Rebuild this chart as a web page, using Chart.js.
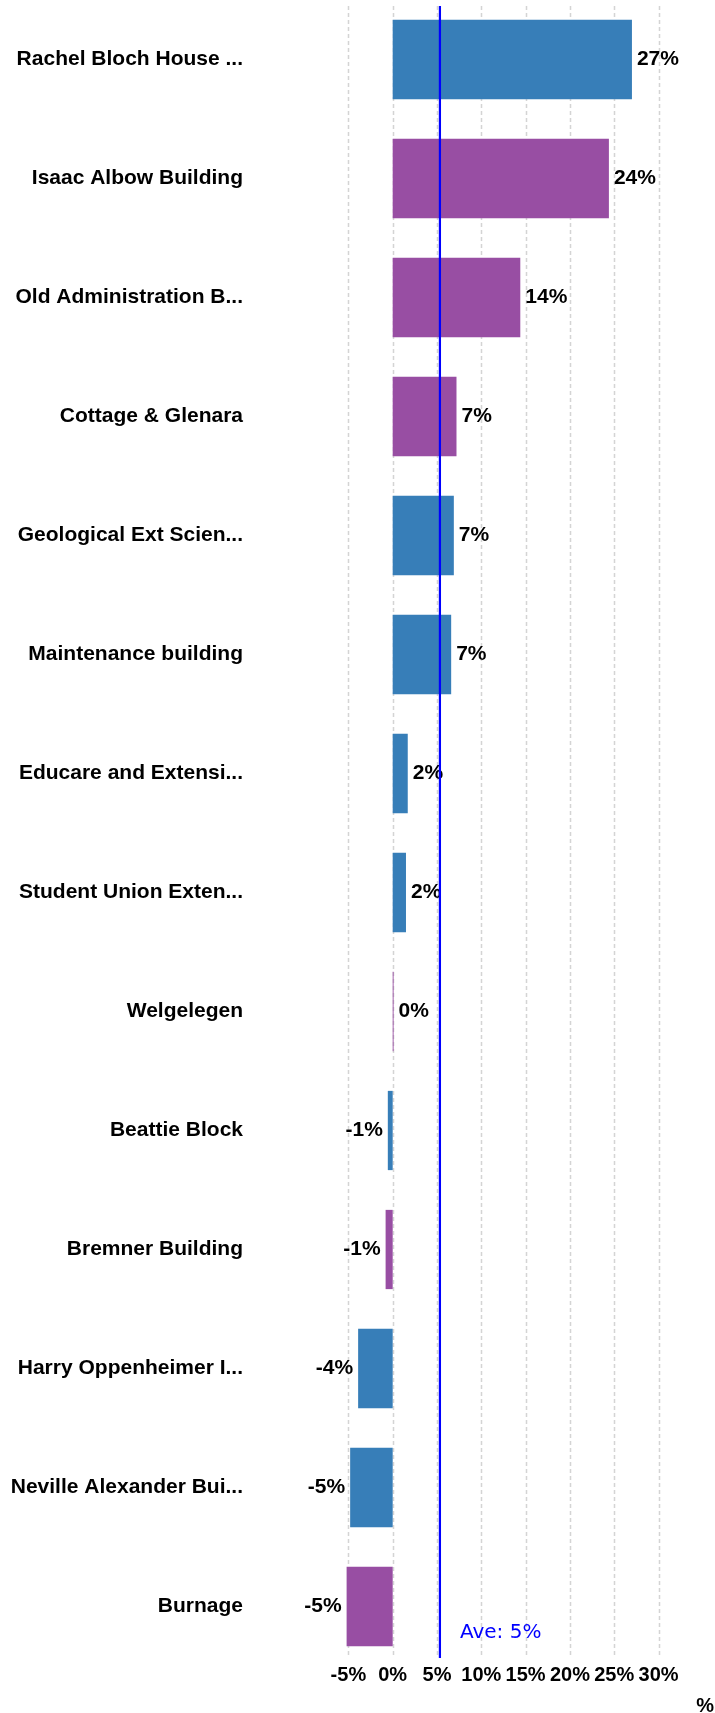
<!DOCTYPE html>
<html><head><meta charset="utf-8">
<script src="https://cdn.jsdelivr.net/npm/chart.js@4.4.1/dist/chart.umd.min.js"></script>
<style>html,body{margin:0;padding:0;background:#fff;overflow:hidden}canvas{display:block}</style>
</head><body><canvas id="c" width="715" height="1713"></canvas>
<script>
// ---- data ----
const categories = [
  'Rachel Bloch House ...', 'Isaac Albow Building', 'Old Administration B...',
  'Cottage & Glenara', 'Geological Ext Scien...', 'Maintenance building',
  'Educare and Extensi...', 'Student Union Exten...', 'Welgelegen',
  'Beattie Block', 'Bremner Building', 'Harry Oppenheimer I...',
  'Neville Alexander Bui...', 'Burnage'
];
const values = [27.0, 24.4, 14.4, 7.2, 6.9, 6.6, 1.7, 1.5, 0.1, -0.55, -0.8, -3.9, -4.8, -5.2];
const groupOf = [0, 1, 1, 1, 0, 0, 0, 0, 1, 0, 1, 0, 0, 1];
const tickValues = [-5, 0, 5, 10, 15, 20, 25, 30];
const averageValue = 5.33;
const axisTitle = '%';

// ---- styling ----
const groupColors = ['#377eb8', '#984ea3'];
const X_MIN = -10.46, X_MAX = 36.26;
const labelFont = 'bold 21px "Liberation Sans", Arial, sans-serif';

const overlay = {
  id: 'overlay',
  beforeDatasetsDraw(chart) {
    const {ctx, chartArea: {top, bottom}, scales: {x}} = chart;
    ctx.save();
    ctx.strokeStyle = '#d4d4d4';
    ctx.lineWidth = 1.5;
    ctx.setLineDash([4, 3]);
    x.ticks.forEach(t => {
      const px = Math.round(x.getPixelForValue(t.value)) + 0.5;
      ctx.beginPath(); ctx.moveTo(px, top + 6); ctx.lineTo(px, bottom - 8); ctx.stroke();
    });
    ctx.restore();
  },
  afterDatasetsDraw(chart) {
    const {ctx, chartArea: {top, bottom}, scales: {x}} = chart;
    const meta = chart.getDatasetMeta(0);
    ctx.save();
    ctx.font = labelFont;
    ctx.fillStyle = '#000';
    ctx.textBaseline = 'middle';
    meta.data.forEach((el, i) => {
      const v = values[i];
      const txt = Math.round(v) + '%';
      if (v >= 0) { ctx.textAlign = 'left'; ctx.fillText(txt, el.x + 5, el.y); }
      else { ctx.textAlign = 'right'; ctx.fillText(txt, el.x - 5, el.y); }
    });
    // average line
    const ax = x.getPixelForValue(averageValue);
    ctx.strokeStyle = '#0000ff';
    ctx.lineWidth = 2.2;
    ctx.beginPath(); ctx.moveTo(ax, top + 6); ctx.lineTo(ax, bottom - 8); ctx.stroke();
    ctx.font = '20px "DejaVu Sans", Verdana, sans-serif';
    ctx.fillStyle = '#0000ff';
    ctx.textAlign = 'left';
    ctx.textBaseline = 'alphabetic';
    ctx.fillText('Ave: ' + Math.round(averageValue) + '%', ax + 20, bottom - 28);
    ctx.restore();
  }
};

new Chart(document.getElementById('c'), {
  type: 'bar',
  data: {
    labels: categories,
    datasets: [{
      data: values,
      backgroundColor: groupOf.map(g => groupColors[g]),
      borderWidth: 0,
      barPercentage: 0.666,
      categoryPercentage: 1.0
    }]
  },
  options: {
    indexAxis: 'y',
    responsive: false,
    devicePixelRatio: 1,
    animation: false,
    layout: {padding: {top: 0, right: 1, bottom: 0, left: 0}},
    plugins: {legend: {display: false}, tooltip: {enabled: false}},
    scales: {
      y: {
        grid: {display: false, drawTicks: false},
        border: {display: false},
        ticks: {
          color: '#000',
          padding: 57,
          font: {family: '"Liberation Sans", Arial, sans-serif', size: 21, weight: 'bold'}
        },
        afterFit(scale) { scale.width = 300; scale.paddingTop = 0; scale.paddingBottom = 0; }
      },
      x: {
        min: X_MIN, max: X_MAX,
        grid: {display: false, drawTicks: false},
        border: {display: false},
        afterBuildTicks(scale) { scale.ticks = tickValues.map(v => ({value: v})); },
        ticks: {
          color: '#000',
          padding: -3,
          autoSkip: false,
          maxRotation: 0,
          font: {family: '"Liberation Sans", Arial, sans-serif', size: 20, weight: 'bold'},
          callback: v => v + '%'
        },
        title: {
          display: true, text: axisTitle, align: 'end', color: '#000',
          font: {family: '"Liberation Sans", Arial, sans-serif', size: 20, weight: 'bold'},
          padding: {top: 0, bottom: -5}
        },
        afterFit(scale) { scale.height = 47; scale.paddingLeft = 0; scale.paddingRight = 0; }
      }
    }
  },
  plugins: [overlay]
});
</script>
</body></html>
